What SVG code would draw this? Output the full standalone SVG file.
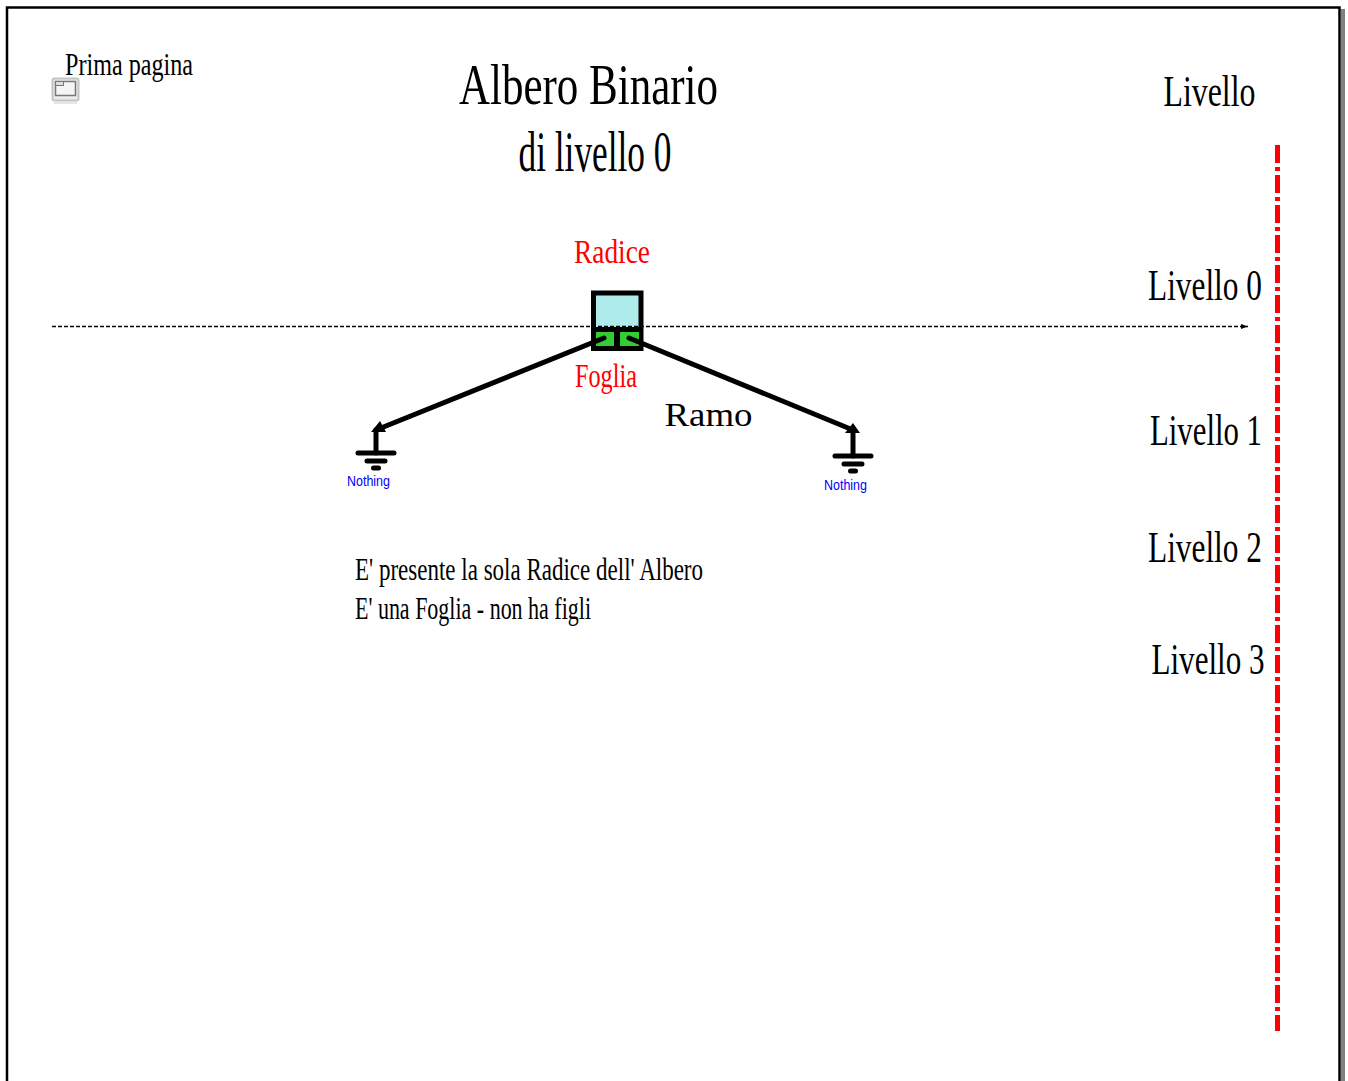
<svg xmlns="http://www.w3.org/2000/svg" width="1348" height="1081" viewBox="0 0 1348 1081">
<style>
text{font-family:"Liberation Serif","Times New Roman",serif;fill:#000}
.red{fill:#f00}
.nothing{font-family:"Liberation Sans",Arial,sans-serif;font-size:14px;fill:#00f}
.lv{font-size:44px}
.desc{font-size:32px}
.k{stroke:#000;fill:none;stroke-linecap:round}
</style>
<defs>
<marker id="dashHead" markerUnits="userSpaceOnUse" markerWidth="8" markerHeight="6" refX="7" refY="3" orient="auto"><path d="M0 .5L7 3L0 5.500z" fill="#000"/></marker>
<g id="ground">
<path class="k" stroke-width="5" d="M-18 0H18M-9 8H9"/>
<path class="k" stroke-width="5" d="M-2.500 15H2.500"/>
</g>
</defs>
<rect width="1348" height="1081" fill="#fff"/>
<g id="frame">
<path d="M1341 9H1345V1081H1341z" fill="#808080"/>
<path d="M7 1081V7.500H1339.500V1081" fill="none" stroke="#000" stroke-width="2.500"/>
</g>
<g id="prima-pagina">
<rect x="52.500" y="78.500" width="26" height="22" rx="2" fill="#ececec" stroke="#c4c4c4" stroke-width="2"/>
<rect x="55.500" y="81.500" width="20" height="14" fill="#f4f4f4" stroke="#777" stroke-width="1.500"/>
<rect x="55.500" y="81.500" width="8" height="4" fill="#ddd" stroke="#777"/>
<path d="M54 103H77" stroke="#e6e6e6" stroke-width="2"/>
<text x="65" y="75" font-size="32" textLength="128" lengthAdjust="spacingAndGlyphs">Prima pagina</text>
</g>
<g id="titolo">
<text x="459" y="104" font-size="56" textLength="259" lengthAdjust="spacingAndGlyphs">Albero Binario</text>
<text x="518.500" y="170.500" font-size="56" textLength="153" lengthAdjust="spacingAndGlyphs">di livello 0</text>
</g>
<g id="livelli">
<text class="lv" x="1163.500" y="105.500" textLength="92" lengthAdjust="spacingAndGlyphs">Livello</text>
<text class="lv" x="1148" y="300" textLength="114" lengthAdjust="spacingAndGlyphs">Livello 0</text>
<text class="lv" x="1150" y="445" textLength="112" lengthAdjust="spacingAndGlyphs">Livello 1</text>
<text class="lv" x="1148" y="562" textLength="114" lengthAdjust="spacingAndGlyphs">Livello 2</text>
<text class="lv" x="1151.500" y="674" textLength="113" lengthAdjust="spacingAndGlyphs">Livello 3</text>
</g>
<g id="radice">
<rect x="593.500" y="293" width="47.500" height="55.500" fill="#aeecec" stroke="#000" stroke-width="5"/>
<rect x="596" y="332" width="43" height="14" fill="#33cc33"/>
<path d="M591 329.500H643" stroke="#000" stroke-width="5" fill="none"/>
<path d="M617 330V349" stroke="#000" stroke-width="6" fill="none"/>
<text class="red" x="574" y="263" font-size="34" textLength="76" lengthAdjust="spacingAndGlyphs">Radice</text>
<text class="red" x="575" y="387" font-size="34" textLength="62" lengthAdjust="spacingAndGlyphs">Foglia</text>
</g>
<g id="connectors">
<path d="M52 326.500H1248" stroke="#000" stroke-width="1.500" stroke-dasharray="4 2" fill="none" marker-end="url(#dashHead)"/>
<path d="M1277.500 145V1031" stroke="#f00" stroke-width="5" stroke-dasharray="18 4 4 4" fill="none"/>
</g>
<g id="rami">
<path class="k" stroke-width="5" d="M604 338L376 430"/>
<path class="k" stroke-width="5" d="M629 338L853 430"/>
<path d="M371 432L380 421L386 432z" fill="#000"/>
<path d="M845 433L853 423L860 433z" fill="#000"/>
<text x="664.500" y="426" font-size="34" textLength="88" lengthAdjust="spacingAndGlyphs">Ramo</text>
</g>
<g id="nothing-sx">
<path class="k" stroke-width="5" stroke-linecap="butt" d="M376 430V453"/>
<use href="#ground" x="376" y="453"/>
<text class="nothing" x="347" y="486" textLength="43" lengthAdjust="spacingAndGlyphs">Nothing</text>
</g>
<g id="nothing-dx">
<path class="k" stroke-width="5" stroke-linecap="butt" d="M853 430V456"/>
<use href="#ground" x="853" y="456"/>
<text class="nothing" x="824" y="490" textLength="43" lengthAdjust="spacingAndGlyphs">Nothing</text>
</g>
<g id="descrizione">
<text class="desc" x="355" y="579.500" textLength="348" lengthAdjust="spacingAndGlyphs">E' presente la sola Radice dell' Albero</text>
<text class="desc" x="355" y="618.500" textLength="236" lengthAdjust="spacingAndGlyphs">E' una Foglia - non ha figli</text>
</g>
</svg>
